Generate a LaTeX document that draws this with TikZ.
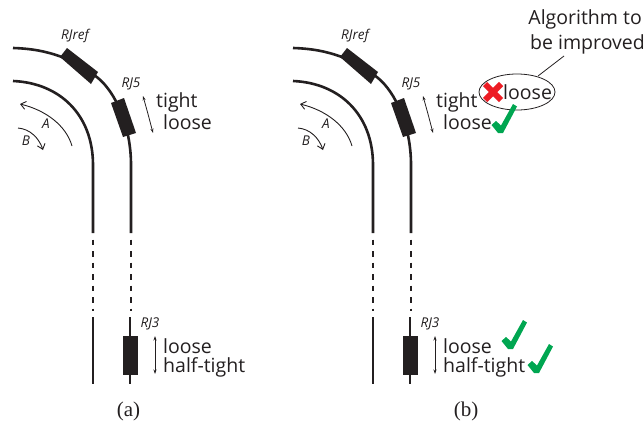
\documentclass[tikz,border=0pt]{standalone}
\usepackage{fontspec}
\setmainfont{Open Sans}
\newfontfamily\serifcap{Liberation Serif}
\usetikzlibrary{arrows.meta}
\definecolor{ink}{HTML}{231F20}
\definecolor{okgreen}{HTML}{00A651}
\definecolor{badred}{HTML}{ED1C24}
\tikzset{
  x=1pt,y=-1pt,
  rail/.style={draw=ink,line width=2.6pt},
  raildash/.style={rail,dash pattern=on 5.5pt off 6pt},
  block/.style={fill=ink,draw=none},
  thin arrow/.style={draw=ink,line width=0.8pt,-{Stealth[length=4.5pt,width=3pt]}},
  dir arrow/.style={draw=ink,line width=0.9pt,-{Straight Barb[length=5pt,width=8pt]}},
  jointlabel/.style={font=\itshape\fontsize{13.5}{13.5}\selectfont,text=ink,inner sep=0pt},
  bigtext/.style={font=\fontsize{19.5}{19.5}\selectfont,text=ink,inner sep=0pt},
  panelcap/.style={font=\serifcap\fontsize{21}{21}\selectfont,text=ink,inner sep=0pt},
  tickmark/.pic={\fill[okgreen] (-9.5,-7) -- (-5,-11) -- (0,-6.5) -- (12,-28) -- (16,-25.5) -- (2,1) -- (-3,1) -- cycle;},
}
\newcommand{\railpanel}[2]{%
\begin{scope}[xshift=#1pt]
  \draw[rail] (13,48) .. controls (50,49) and (75,60) .. (98,78) .. controls (115,92) and (131,125) .. (131,165) -- (131,233);
  \draw[rail] (13,81) .. controls (60,83) and (93,115) .. (93,165) -- (93,233);
  \draw[raildash] (93,239.5) -- (93,311);
  \draw[raildash] (131,239.5) -- (131,311);
  \draw[rail] (93,317) -- (93,384);
  \draw[rail] (130,317) -- (130,384);
  \fill[block] (67,48) -- (98,72) -- (91,84) -- (60,57) -- cycle;
  \fill[block] (111,103) -- (124,98) -- (136,133) -- (123,137) -- cycle;
  \fill[block] (123,336) rectangle (138,375);
  \draw[dir arrow] (72,146) .. controls (66,125) and (45,110) .. (20,104);
  \draw[dir arrow] (18,128) .. controls (30,129) and (39,138) .. (43,150);
  \draw[thin arrow] (148,114) -- (143,96);
  \draw[thin arrow] (148,114) -- (153,133);
  \draw[thin arrow] (155,355) -- (155,336);
  \draw[thin arrow] (155,355) -- (155,374);
  \node[jointlabel] (ref#2) at (75,36) {RJref};
  \node[jointlabel] (five#2) at (131,84) {RJ5};
  \node[jointlabel] (three#2) at (150,324) {RJ3};
  \node[jointlabel] (A#2) at (46,124) {A};
  \node[jointlabel] (B#2) at (26,141) {B};
  \node[bigtext,anchor=west] (tight#2) at (156,102) {tight};
  \node[bigtext,anchor=west] (loosefive#2) at (163,122) {loose};
  \node[bigtext,anchor=west] (loosethree#2) at (163,346) {loose};
  \node[bigtext,anchor=west] (half#2) at (163,367) {half-tight};
\end{scope}}
\begin{document}
\begin{tikzpicture}
\useasboundingbox (0,0) rectangle (644,426);
\railpanel{0}{a}
\railpanel{280}{b}
\node[panelcap] (capa) at (128.5,411) {(a)};
\node[panelcap] (capb) at (466,411) {(b)};
\node[bigtext,anchor=west] (tightloose) at (503,92) {loose};
\draw[ink,line width=0.8pt] (517,92) ellipse [x radius=38,y radius=18];
\coordinate (ellipsetop) at (538,76);
\node[bigtext,anchor=east] (algo1) at (642,19) {Algorithm to};
\node[bigtext,anchor=west] (algo2) at (530,44) {be improved};
\coordinate (calloutend) at (564,56);
\draw[ink,line width=0.8pt] (ellipsetop) -- (calloutend);
\draw[badred,line width=6pt] (485,84) -- (501,100);
\draw[badred,line width=6pt] (501,84) -- (485,100);
\pic at (501,132) {tickmark};
\pic at (511,348) {tickmark};
\pic at (537,372) {tickmark};
\end{tikzpicture}
\end{document}
